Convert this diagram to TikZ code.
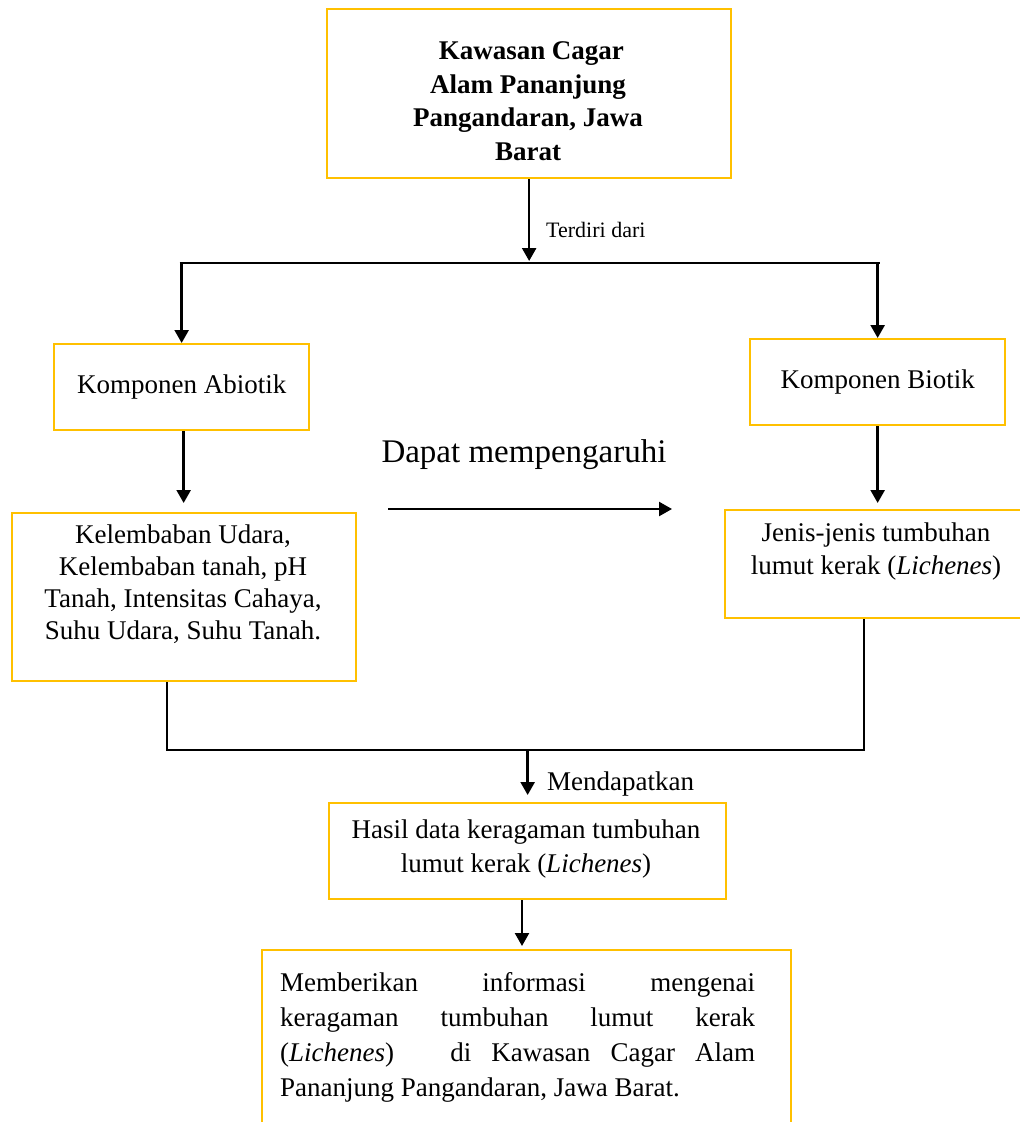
\documentclass[tikz,border=0pt]{standalone}
\usepackage{fontspec}
\setmainfont{Liberation Serif}
\usetikzlibrary{arrows.meta,positioning,calc}
\hbadness=10000
\begin{document}
\begin{tikzpicture}[x=1pt,y=1pt,
  ybox/.style={draw={rgb,255:red,255;green,192;blue,0},line width=2.3pt,inner sep=0pt,anchor=north west},
  txt/.style={inner sep=0pt,align=center,font=\fontsize{27}{32}\selectfont},
  conn/.style={line width=2.4pt,black},
  arr/.style={conn,-{Triangle[width=14pt,length=13pt]}}]
\useasboundingbox (0,0) rectangle (1020,-1122);
\clip (0,0) rectangle (1020,-1122);
% boxes
\node[ybox,minimum width=404pt,minimum height=169pt] (top) at (326,-8) {};
\node[ybox,minimum width=255pt,minimum height=86pt] (abio) at (53,-343) {};
\node[ybox,minimum width=255pt,minimum height=86pt] (bio) at (749,-338) {};
\node[ybox,minimum width=344pt,minimum height=168pt] (kel) at (11,-512) {};
\node[ybox,minimum width=304pt,minimum height=108pt] (jen) at (724,-509) {};
\node[ybox,minimum width=397pt,minimum height=96pt] (hasil) at (328,-802) {};
\draw[draw={rgb,255:red,255;green,192;blue,0},line width=2.3pt] (262,-1140) -- (262,-950) -- (791,-950) -- (791,-1140);
\coordinate (botN) at (522,-950);
% texts
\node[txt,font=\fontsize{27}{33.5}\selectfont\bfseries] (topT) at (528,-101) {\ Kawasan Cagar\\Alam Pananjung\\Pangandaran, Jawa\\Barat};
\node[txt] (abioT) at (abio.center) {Komponen Abiotik};
\node[txt] (bioT) at (bio.center) {Komponen Biotik};
\node[txt] (kelT) at (183,-584) {Kelembaban Udara,\\Kelembaban tanah, pH\\Tanah, Intensitas Cahaya,\\Suhu Udara, Suhu Tanah.};
\node[txt,font=\fontsize{27}{33}\selectfont] (jenT) at (876,-551) {Jenis-jenis tumbuhan\\lumut kerak (\textit{Lichenes})};
\node[txt,font=\fontsize{27}{34}\selectfont] (hasilT) at (526,-849) {Hasil data keragaman tumbuhan\\lumut kerak (\textit{Lichenes})};
\node[inner sep=0pt,anchor=north west,text width=475pt,align=justify,font=\fontsize{27}{35}\selectfont] (botT) at (280,-972) {Memberikan informasi mengenai\linebreak keragaman tumbuhan lumut kerak\linebreak (\textit{Lichenes})\hspace{36pt} di Kawasan Cagar Alam\linebreak Pananjung Pangandaran, Jawa Barat.};
\node[inner sep=0pt,anchor=west,font=\fontsize{22}{26}\selectfont] (terd) at (546,-230) {Terdiri dari};
\node[inner sep=0pt,font=\fontsize{33}{38}\selectfont] (dapat) at (524,-455) {Dapat mempengaruhi};
\node[inner sep=0pt,anchor=west,font=\fontsize{27}{32}\selectfont] (mend) at (547,-784) {Mendapatkan};
% connectors
\coordinate (jL) at (abio.north |- 0,-263);
\coordinate (jR) at (bio.north |- 0,-263);
\coordinate (jM) at (top.south |- 0,-263);
\draw[arr,shorten >=2pt] (top.south) -- (jM);
\draw[conn] ([xshift=-2pt]jL) -- ([xshift=2pt]jR);
\draw[arr] (jL) -- (abio.north);
\draw[arr] (jR) -- (bio.north);
\draw[arr,shorten >=9pt] ([xshift=2pt]abio.south) -- ([xshift=2pt]abio.south |- kel.north);
\draw[arr,shorten >=6pt] (bio.south) -- (bio.south |- jen.north);
\coordinate (dA) at (388,-509);
\coordinate (dB) at (672,-509);
\draw[arr] (dA) -- (dB);
\coordinate (mL) at ([xshift=-17pt]kel.south |- 0,-750);
\draw[conn] ([xshift=-17pt]kel.south) -- (mL) -| ([xshift=-13pt]jen.south);
\coordinate (mM) at (hasil.north |- 0,-750);
\draw[arr,shorten >=7pt] (mM) -- (hasil.north);
\draw[arr,shorten >=4pt] (botN |- hasil.south) -- (botN);
\end{tikzpicture}
\end{document}
